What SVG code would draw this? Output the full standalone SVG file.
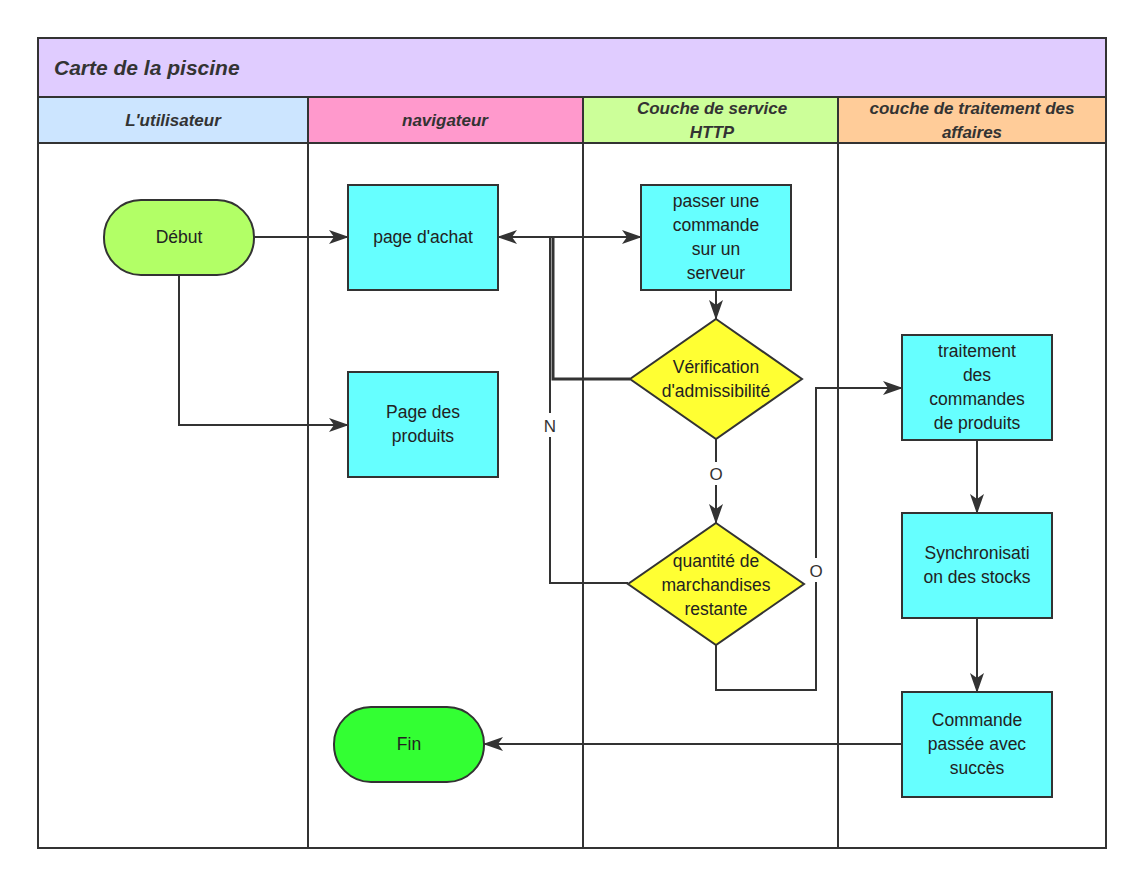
<svg xmlns="http://www.w3.org/2000/svg" width="1143" height="885" viewBox="0 0 1143 885">
<style>
.ln{stroke:#333;stroke-width:2;fill:none}
.bx{stroke:#333;stroke-width:2}
.t{font-family:"Liberation Sans",Arial,sans-serif;font-size:17.5px;fill:#222;text-anchor:middle}
.h{font-family:"Liberation Sans",Arial,sans-serif;font-size:17px;font-weight:bold;font-style:italic;fill:#333;text-anchor:middle}
.lb{font-family:"Liberation Sans",Arial,sans-serif;font-size:17px;fill:#333;text-anchor:middle}
</style>
<defs>
<marker id="b" viewBox="0 0 20 14" refX="19" refY="7" markerWidth="20" markerHeight="14" markerUnits="userSpaceOnUse" orient="auto-start-reverse"><path d="M0,0L20,7L0,14L5,7z" fill="#333"/></marker>
</defs>
<rect width="1143" height="885" fill="#fff"/>
<g id="pool">
<rect x="38" y="38" width="1068" height="59" fill="#e0ccff" class="bx"/>
<text x="54" y="75" class="h" style="text-anchor:start;font-size:21px">Carte de la piscine</text>
<rect x="38" y="97" width="270" height="46" fill="#cce5ff" class="bx"/>
<rect x="308" y="97" width="275" height="46" fill="#ff99cc" class="bx"/>
<rect x="583" y="97" width="255" height="46" fill="#ccff99" class="bx"/>
<rect x="838" y="97" width="268" height="46" fill="#ffcc99" class="bx"/>
<text x="173" y="126" class="h">L'utilisateur</text>
<text x="445" y="126" class="h">navigateur</text>
<text x="712" y="114" class="h">Couche de service</text>
<text x="712" y="138" class="h">HTTP</text>
<text x="972" y="114" class="h">couche de traitement des</text>
<text x="972" y="138" class="h">affaires</text>
<rect x="38" y="143" width="270" height="705" fill="none" class="bx"/>
<rect x="308" y="143" width="275" height="705" fill="none" class="bx"/>
<rect x="583" y="143" width="255" height="705" fill="none" class="bx"/>
<rect x="838" y="143" width="268" height="705" fill="none" class="bx"/>
</g>
<g id="connectors">
<path class="ln" d="M254,237H348" marker-end="url(#b)"/>
<path class="ln" d="M179,275V425H348" marker-end="url(#b)"/>
<path class="ln" d="M498,237H641" marker-start="url(#b)" marker-end="url(#b)"/>
<path class="ln" d="M716,290V319" marker-end="url(#b)"/>
<path class="ln" d="M716,439V462M716,485V523" marker-end="url(#b)"/>
<path class="ln" d="M630,379H553V237" style="stroke-width:3"/>
<path class="ln" d="M628,583H550V437M550,413V237"/>
<path class="ln" d="M716,645V690H816V582M816,558V388H902" marker-end="url(#b)"/>
<path class="ln" d="M977,440V513" marker-end="url(#b)"/>
<path class="ln" d="M977,618V692" marker-end="url(#b)"/>
<path class="ln" d="M902,744H484" marker-end="url(#b)"/>
<text x="716" y="480" class="lb">O</text>
<text x="550" y="432" class="lb">N</text>
<text x="816" y="577" class="lb">O</text>
</g>
<g id="debut"><rect x="104" y="200" width="150" height="75" rx="37" fill="#b2ff66" class="bx"/><text x="179" y="243" class="t">Début</text></g>
<g id="achat"><rect x="348" y="185" width="150" height="105" fill="#66ffff" class="bx"/><text x="423" y="243" class="t">page d'achat</text></g>
<g id="produits"><rect x="348" y="372" width="150" height="105" fill="#66ffff" class="bx"/><text x="423" y="418" class="t">Page des</text><text x="423" y="442" class="t">produits</text></g>
<g id="passer"><rect x="641" y="185" width="150" height="105" fill="#66ffff" class="bx"/><text x="716" y="207" class="t">passer une</text><text x="716" y="231" class="t">commande</text><text x="716" y="255" class="t">sur un</text><text x="716" y="279" class="t">serveur</text></g>
<g id="verif"><path d="M716,319L802,379L716,439L630,379Z" fill="#ffff33" class="bx"/><text x="716" y="373" class="t">Vérification</text><text x="716" y="397" class="t">d'admissibilité</text></g>
<g id="quantite"><path d="M716,523L804,584L716,645L628,584Z" fill="#ffff33" class="bx"/><text x="716" y="567" class="t">quantité de</text><text x="716" y="591" class="t">marchandises</text><text x="716" y="615" class="t">restante</text></g>
<g id="fin"><rect x="334" y="707" width="150" height="75" rx="37" fill="#33ff33" class="bx"/><text x="409" y="750" class="t">Fin</text></g>
<g id="traitement"><rect x="902" y="335" width="150" height="105" fill="#66ffff" class="bx"/><text x="977" y="357" class="t">traitement</text><text x="977" y="381" class="t">des</text><text x="977" y="405" class="t">commandes</text><text x="977" y="429" class="t">de produits</text></g>
<g id="synchro"><rect x="902" y="513" width="150" height="105" fill="#66ffff" class="bx"/><text x="977" y="559" class="t">Synchronisati</text><text x="977" y="583" class="t">on des stocks</text></g>
<g id="commande"><rect x="902" y="692" width="150" height="105" fill="#66ffff" class="bx"/><text x="977" y="726" class="t">Commande</text><text x="977" y="750" class="t">passée avec</text><text x="977" y="774" class="t">succès</text></g>
</svg>
